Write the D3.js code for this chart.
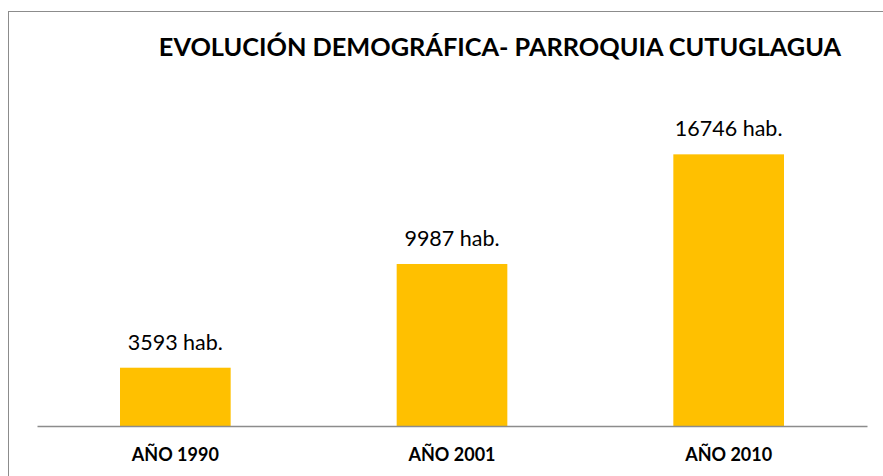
<!DOCTYPE html>
<meta charset="utf-8">
<style>
  body { margin: 0; background: #fff; }
  text { font-family: Lato, "Open Sans", sans-serif; fill: #000; }
</style>
<body>
<script src="https://d3js.org/d3.v7.min.js"></script>
<script>

// chart data
var years = ["AÑO 1990", "AÑO 2001", "AÑO 2010"];
var population = [3593, 9987, 16746];
var title = "EVOLUCIÓN DEMOGRÁFICA- PARROQUIA CUTUGLAGUA";

var width = 883, height = 476;
var plot = { left: 37, right: 867, top: 134, bottom: 426 };

var svg = d3.select("body").append("svg")
  .attr("width", width)
  .attr("height", height);

// outer chart frame (runs off the bottom/right of the picture)
svg.append("rect")
  .attr("x", 8.5)
  .attr("y", 11.5)
  .attr("width", 900)
  .attr("height", 500)
  .attr("fill", "none")
  .attr("stroke", "#8c8c8c")
  .attr("stroke-width", 1);

var x = d3.scaleBand()
  .domain(years)
  .range([plot.left, plot.right])
  .paddingInner(0.6)
  .paddingOuter(0.3);

var y = d3.scaleLinear()
  .domain([0, 18000])
  .range([plot.bottom, plot.top]);

// title
svg.append("text")
  .attr("x", 500)
  .attr("y", 56)
  .attr("text-anchor", "middle")
  .attr("font-size", "25.3px")
  .attr("font-weight", "bold")
  .text(title);

// bars
svg.selectAll(".bar")
  .data(population)
  .enter().append("rect")
  .attr("class", "bar")
  .attr("x", function (d, i) { return x(years[i]); })
  .attr("width", x.bandwidth())
  .attr("y", function (d) { return y(d); })
  .attr("height", function (d) { return y(0) - y(d); })
  .attr("fill", "#ffc000");

// value labels
svg.selectAll(".value")
  .data(population)
  .enter().append("text")
  .attr("class", "value")
  .attr("x", function (d, i) { return x(years[i]) + x.bandwidth() / 2; })
  .attr("y", function (d) { return y(d) - 18; })
  .attr("text-anchor", "middle")
  .attr("font-size", "21.5px")
  .text(function (d) { return d + " hab."; });

// x axis
var xAxis = svg.append("g")
  .attr("transform", "translate(0," + plot.bottom + ")")
  .call(d3.axisBottom(x).tickSize(0).tickPadding(22));

xAxis.select(".domain")
  .attr("stroke", "#8c8c8c")
  .attr("stroke-width", 1.5);

xAxis.selectAll(".tick text")
  .attr("font-family", "Lato, 'Open Sans', sans-serif")
  .attr("font-size", "18px")
  .attr("font-weight", "bold")
  .attr("fill", "#000");

</script>
</body>
